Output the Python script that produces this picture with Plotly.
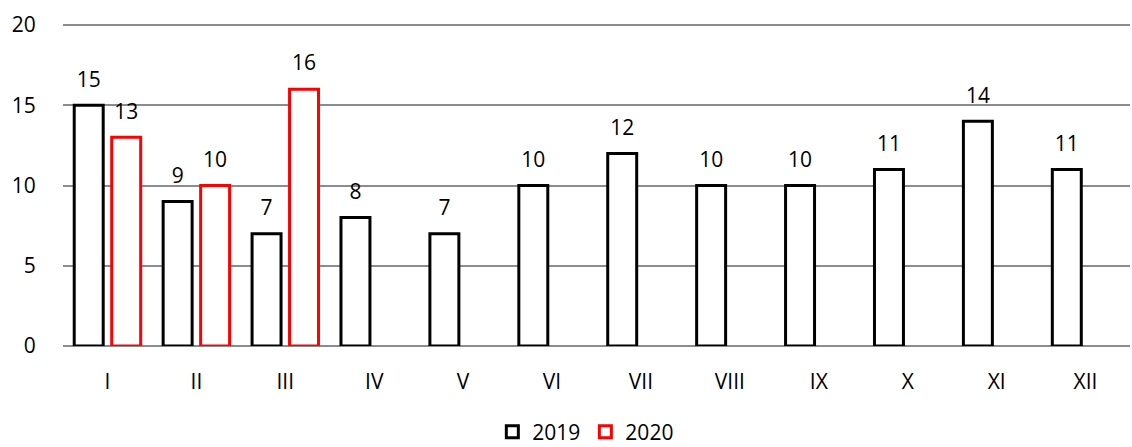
import plotly.graph_objects as go

months = ["I", "II", "III", "IV", "V", "VI", "VII", "VIII", "IX", "X", "XI", "XII"]
values_2019 = [15, 9, 7, 8, 7, 10, 12, 10, 10, 11, 14, 11]
values_2020 = [13, 10, 16, None, None, None, None, None, None, None, None, None]
y_ticks = [0, 5, 10, 15, 20]

FONT = "Open Sans"
FS = 21

fig = go.Figure()
for name, vals, col in [("2019", values_2019, "black"), ("2020", values_2020, "#ff0000")]:
    fig.add_trace(go.Bar(
        name=name, x=months, y=vals,
        offsetgroup=name, alignmentgroup="a",
        marker=dict(color="white", line=dict(color=col, width=3)),
    ))
for name, vals in [("2019", values_2019), ("2020", values_2020)]:
    fig.add_trace(go.Scatter(
        x=months, y=vals, mode="markers+text",
        offsetgroup=name, alignmentgroup="a",
        text=vals, textposition="top center",
        textfont=dict(family=FONT, size=FS, color="black"),
        marker=dict(size=20, color="rgba(0,0,0,0)"),
        showlegend=False, hoverinfo="skip", cliponaxis=False,
    ))

fig.update_layout(
    width=1132, height=447,
    margin=dict(l=63, r=2, t=17, b=101, autoexpand=False),
    barmode="group", bargap=0.157, bargroupgap=0.227,
    scattermode="group", scattergap=0.157,
    plot_bgcolor="white", paper_bgcolor="white",
    font=dict(family=FONT, size=FS, color="black"),
    showlegend=True,
    legend=dict(orientation="h", x=0.49, xanchor="center", y=-0.262, yanchor="middle",
                font=dict(family=FONT, size=FS, color="black"),
                itemwidth=30, tracegroupgap=0),
)
fig.update_xaxes(showgrid=False, showline=False, ticks="outside", ticklen=17,
                 tickcolor="rgba(0,0,0,0)", tickfont=dict(family=FONT, size=FS, color="black"))
fig.update_yaxes(range=[0, 20.5], tickvals=y_ticks, showgrid=True, gridcolor="#8c8c8c",
                 gridwidth=1.5, zeroline=True, zerolinecolor="#8c8c8c", zerolinewidth=1.5,
                 showline=False, ticks="outside", ticklen=22, tickcolor="rgba(0,0,0,0)",
                 tickfont=dict(family=FONT, size=FS, color="black"))

fig.write_html("out.html", config={"displayModeBar": False},
               post_script="document.body.style.margin='0';")
